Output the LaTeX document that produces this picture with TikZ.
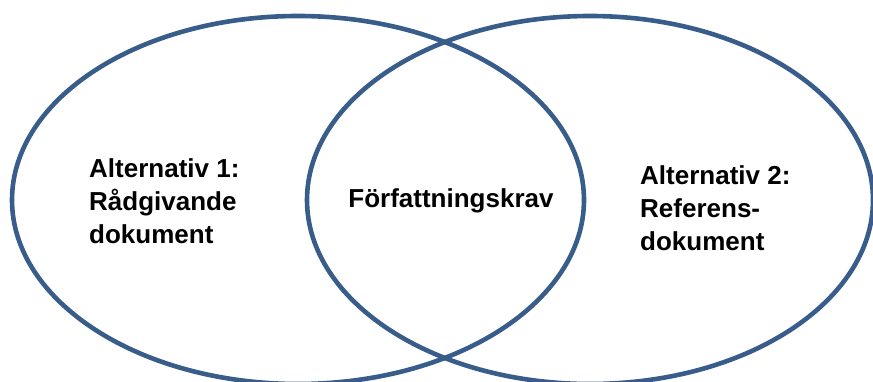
\documentclass[tikz,border=0pt]{standalone}
\usepackage{fontspec}
\setmainfont{Liberation Sans}
\usetikzlibrary{shapes.geometric}
\definecolor{ringblue}{HTML}{385D8A}

\begin{document}
\begin{tikzpicture}[
  x=1pt,y=1pt,
  ring/.style={draw=ringblue,line width=4.6pt,ellipse,inner sep=0pt,
    minimum height=368pt},
  lbl/.style={align=left,inner sep=0pt,font=\bfseries\fontsize{26}{33}\selectfont}
]
\useasboundingbox (0,0) rectangle (873,381);
\node[ring,minimum width=572pt] (alt1) at (298,181) {};
\node[ring,minimum width=566pt] (alt2) at (590,181) {};

\node[lbl,anchor=base west] (text1) at (89,138) {Alternativ 1:\\Rådgivande\\dokument};
\node[lbl,anchor=base] (krav) at (451,174) {Författningskrav};
\node[lbl,anchor=base west] (text2) at (640,131) {Alternativ 2:\\Referens-\\dokument};
\end{tikzpicture}
\end{document}
